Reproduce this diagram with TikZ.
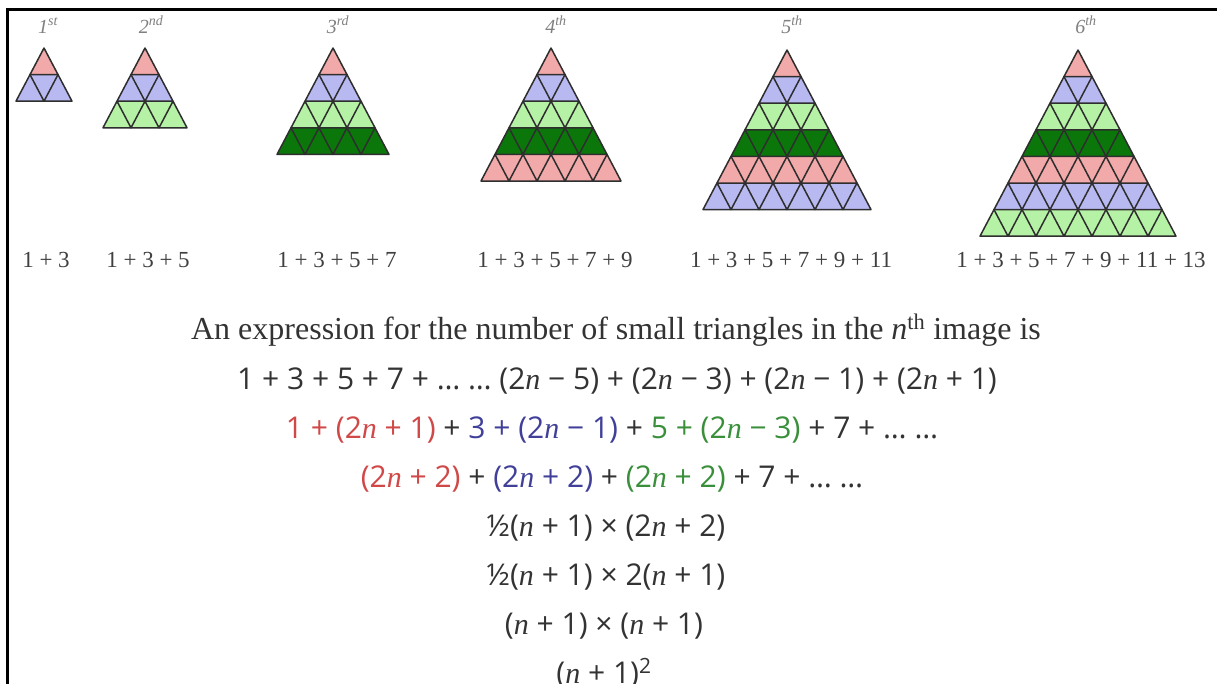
\documentclass[tikz,border=0pt]{standalone}
\usepackage{fontspec}
\setmainfont{Liberation Serif}
\newfontfamily\eqf{Open Sans}
\newcommand\nv{{\rmfamily\itshape n}}
\definecolor{rowc0}{HTML}{F2A9A9}
\definecolor{rowc1}{HTML}{B9B9F2}
\definecolor{rowc2}{HTML}{B6F2A6}
\definecolor{rowc3}{HTML}{0B770B}
\definecolor{eqred}{HTML}{D04848}
\definecolor{eqblue}{HTML}{40409A}
\definecolor{eqgreen}{HTML}{3A8F3A}
\definecolor{txt}{HTML}{333333}
\def\uw{28}
\def\rh{26.6}
\newcommand\tri[3]{%
  \foreach \k in {1,...,#3} {
    \pgfmathsetmacro\yt{#2+(\k-1)*\rh}
    \pgfmathsetmacro\yb{#2+\k*\rh}
    \pgfmathsetmacro\xtl{#1-(\k-1)*\uw/2}
    \pgfmathsetmacro\xtr{#1+(\k-1)*\uw/2}
    \pgfmathsetmacro\xbl{#1-\k*\uw/2}
    \pgfmathsetmacro\xbr{#1+\k*\uw/2}
    \pgfmathtruncatemacro\ci{mod(\k-1,4)}
    \fill[rowc\ci] (\xtl,\yt) -- (\xtr,\yt) -- (\xbr,\yb) -- (\xbl,\yb) -- cycle;
  }
  \foreach \k in {1,...,#3} {
    \foreach \j in {1,...,\k} {
      \pgfmathsetmacro\tx{#1-(\k-1)*\uw/2+(\j-1)*\uw}
      \pgfmathsetmacro\ty{#2+(\k-1)*\rh}
      \pgfmathsetmacro\by{#2+\k*\rh}
      \draw[gridline] (\tx,\ty) -- (\tx+\uw/2,\by) -- (\tx-\uw/2,\by) -- cycle;
    }
  }
}
\tikzset{
  gridline/.style={draw=black!82, line width=1.5pt, line join=round},
  frameline/.style={draw=black, line width=2.5pt},
  ordlbl/.style={text=black!50, font=\itshape\fontsize{20}{20}\selectfont, anchor=base, inner sep=0pt},
  sumlbl/.style={text=black!75, font=\fontsize{23}{23}\selectfont, anchor=base, inner sep=0pt},
  sent/.style={text=txt, font=\fontsize{32}{32}\selectfont, anchor=base, inner sep=0pt},
  eqline/.style={text=txt, font=\eqf\fontsize{30}{30}\selectfont, anchor=base, inner sep=0pt},
}
\begin{document}
\begin{tikzpicture}[x=1pt,y=-1pt]
\useasboundingbox (0,0) rectangle (1217,683);
\fill[white] (0,0) rectangle (1217,683);
% frame
\coordinate (fbl) at (7.3,690);
\coordinate (ftl) at (7.3,9.5);
\coordinate (ftr) at (1225,9.5);
\draw[frameline] (fbl) -- (ftl) -- (ftr);
% triangles
\tri{44}{48}{2}
\tri{145}{48}{3}
\tri{333}{48}{4}
\tri{551}{48}{5}
\tri{787}{50}{6}
\tri{1078}{50}{7}
% ordinal labels
\node[ordlbl] (o1) at (48,33) {1\textsuperscript{st}};
\node[ordlbl] (o2) at (151,33) {2\textsuperscript{nd}};
\node[ordlbl] (o3) at (338,33) {3\textsuperscript{rd}};
\node[ordlbl] (o4) at (556,33) {4\textsuperscript{th}};
\node[ordlbl] (o5) at (792,33) {5\textsuperscript{th}};
\node[ordlbl] (o6) at (1086,33) {6\textsuperscript{th}};
% sums
\node[sumlbl] (s1) at (46,267) {1 + 3};
\node[sumlbl] (s2) at (148,267) {1 + 3 + 5};
\node[sumlbl] (s3) at (337,267) {1 + 3 + 5 + 7};
\node[sumlbl] (s4) at (555,267) {1 + 3 + 5 + 7 + 9};
\node[sumlbl] (s5) at (791,267) {1 + 3 + 5 + 7 + 9 + 11};
\node[sumlbl] (s6) at (1081,267) {1 + 3 + 5 + 7 + 9 + 11 + 13};
% text
\node[sent] (sent) at (616,339) {An expression for the number of small triangles in the \textit{n}\textsuperscript{th} image is};
\node[eqline] (eq2) at (617,389) {1 + 3 + 5 + 7 + … … (2\nv{} − 5) + (2\nv{} − 3) + (2\nv{} − 1) + (2\nv{} + 1)};
\node[eqline] (eq3) at (612,438) {\textcolor{eqred}{1 + (2\nv{} + 1)} + \textcolor{eqblue}{3 + (2\nv{} − 1)} + \textcolor{eqgreen}{5 + (2\nv{} − 3)} + 7 + … …};
\node[eqline] (eq4) at (612,487) {\textcolor{eqred}{(2\nv{} + 2)} + \textcolor{eqblue}{(2\nv{} + 2)} + \textcolor{eqgreen}{(2\nv{} + 2)} + 7 + … …};
\node[eqline] (eq5) at (606,536) {½(\nv{} + 1) × (2\nv{} + 2)};
\node[eqline] (eq6) at (606,585) {½(\nv{} + 1) × 2(\nv{} + 1)};
\node[eqline] (eq7) at (604,634) {(\nv{} + 1) × (\nv{} + 1)};
\node[eqline] (eq8) at (604,683) {(\nv{} + 1)\textsuperscript{2}};
\end{tikzpicture}
\end{document}
